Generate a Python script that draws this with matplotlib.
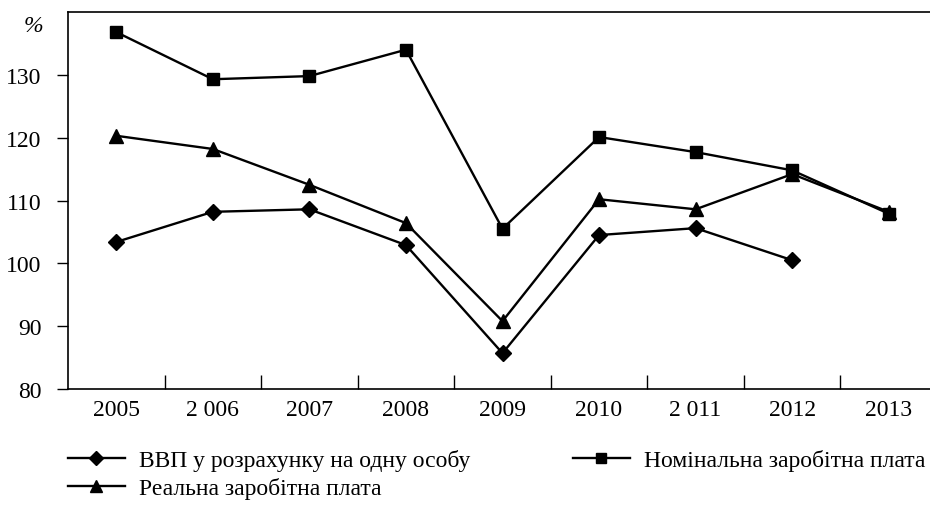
import matplotlib.pyplot as plt
from matplotlib.lines import Line2D

years = ["2005", "2 006", "2007", "2008", "2009", "2010", "2 011", "2012", "2013"]
gdp = [103.4, 108.2, 108.6, 102.9, 85.7, 104.5, 105.6, 100.5]
nominal = [136.8, 129.3, 129.8, 134.0, 105.5, 120.1, 117.7, 114.8, 107.9]
real = [120.3, 118.2, 112.5, 106.4, 90.8, 110.2, 108.6, 114.2, 108.2]

plt.rcParams['font.family'] = ['Liberation Serif', 'DejaVu Serif']
FS = 17

fig = plt.figure(figsize=(9.3, 5.06), dpi=100)
# right spine is cropped off in the reference, so the axes runs past the edge
ax = fig.add_axes([68 / 930, 1 - 390 / 506, (937 - 68) / 930, (390 - 13) / 506])

x_all = list(range(len(years)))
kw = dict(color="black", lw=1.7)
ax.plot(x_all[:len(gdp)], gdp, marker="D", ms=8, **kw)
ax.plot(x_all, real, marker="^", ms=9.5, **kw)
ax.plot(x_all, nominal, marker="s", ms=8, **kw)

ax.set_xlim(-0.5, len(years) - 0.5)
ax.set_ylim(80, 140)
ax.set_yticks([80, 90, 100, 110, 120, 130])
ax.tick_params(axis="y", direction="out", length=8, width=1, labelsize=FS, pad=11)
ax.set_xticks(x_all)
ax.set_xticklabels(years)
ax.tick_params(axis="x", which="major", length=0, labelsize=FS, pad=7)
ax.set_xticks([i + 0.5 for i in x_all[:-1]], minor=True)
ax.tick_params(axis="x", which="minor", direction="in", length=10, width=1)
for s in ax.spines.values():
    s.set_linewidth(1.2)

fig.text(33 / 930, 1 - 27 / 506, "%", fontsize=FS, style="italic",
         ha="center", va="center")

h_gdp = Line2D([], [], marker="D", ms=7, **kw)
h_real = Line2D([], [], marker="^", ms=8, **kw)
h_nom = Line2D([], [], marker="s", ms=7, **kw)
fig.legend([h_gdp, h_real],
           ["ВВП у розрахунку на одну особу", "Реальна заробітна плата"],
           loc="upper left", bbox_to_anchor=(68 / 930, 1 - 450 / 506),
           frameon=False, fontsize=FS, handlelength=2.4, handletextpad=0.6,
           labelspacing=0.25, borderaxespad=0, borderpad=0)
fig.legend([h_nom], ["Номінальна заробітна плата"],
           loc="upper left", bbox_to_anchor=(573 / 930, 1 - 450 / 506),
           frameon=False, fontsize=FS, handlelength=2.4, handletextpad=0.6,
           borderaxespad=0, borderpad=0)

fig.savefig("out.png", dpi=100)
